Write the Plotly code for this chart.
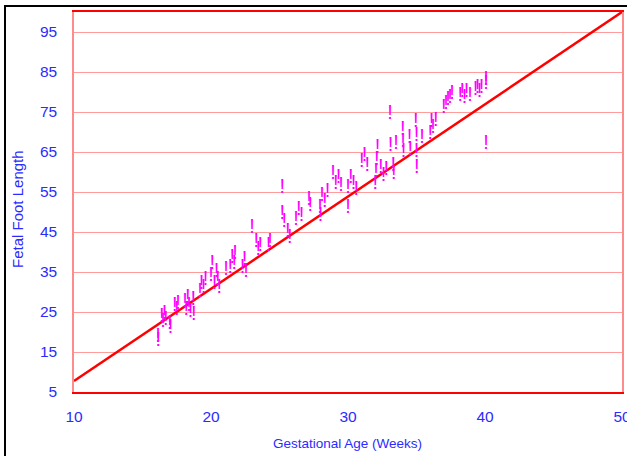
import plotly.graph_objects as go

# Gestational age (weeks) and fetal foot length measurements
weeks = [16.13, 16.15, 16.4, 16.5, 16.6, 16.7, 17.0, 17.05, 17.35, 17.5, 17.6,
         18.1, 18.2, 18.3, 18.4, 18.5, 18.7, 18.75, 19.2, 19.3, 19.45, 19.6,
         20.0, 20.1, 20.25, 20.4, 20.5, 20.6, 21.1, 21.4, 21.55, 21.7, 21.75,
         22.3, 22.45, 22.55, 23.0, 23.3, 23.45, 23.6, 24.2, 24.3,
         25.2, 25.2, 25.35, 25.6, 25.75, 26.2, 26.4, 26.6, 27.15, 27.25,
         27.95, 28.0, 28.1, 28.3, 28.5, 28.9, 29.1, 29.3, 29.5,
         30.0, 30.0, 30.2, 30.4, 30.6, 31.0, 31.2, 31.4,
         32.0, 32.05, 32.1, 32.15, 32.4, 32.6, 32.8, 33.07, 33.1, 33.3, 33.35, 33.5,
         34.0, 34.02, 34.05, 34.5, 34.55, 34.95, 35.0, 35.0, 35.02, 35.4,
         36.0, 36.1, 36.2, 36.4, 37.0, 37.15, 37.3, 37.45, 37.6,
         38.2, 38.35, 38.5, 38.65, 38.9, 39.3, 39.45, 39.6, 39.75,
         40.07, 40.07, 40.07]
foot_length = [18.8, 17.8, 23.8, 22.6, 24.5, 23.0, 22.0, 21.0, 26.5, 25.5, 27.0,
               27.5, 25.5, 28.5, 26.5, 25.0, 28.0, 24.2, 30.0, 32.0, 31.0, 33.0,
               34.0, 37.0, 32.0, 35.0, 33.0, 31.0, 35.5, 36.0, 38.5, 37.0, 39.5,
               36.0, 38.0, 35.0, 46.0, 42.5, 40.5, 41.5, 41.5, 42.5,
               56.0, 49.5, 47.5, 45.0, 43.5, 48.0, 50.5, 49.0, 53.0, 51.5,
               51.0, 49.0, 54.0, 52.5, 55.0, 59.5, 57.0, 58.5, 56.5,
               56.0, 51.0, 58.5, 57.0, 55.5, 62.5, 64.0, 61.5,
               57.0, 60.0, 63.0, 66.0, 61.0, 59.0, 60.5, 74.5, 66.5, 61.5, 59.5, 67.0,
               70.5, 67.5, 65.0, 68.5, 65.5, 72.5, 69.0, 65.0, 61.0, 68.5,
               69.5, 72.5, 71.0, 72.8, 76.0, 77.0, 78.0, 78.5, 79.5,
               79.0, 80.0, 78.5, 80.0, 79.0, 80.5, 81.0, 80.0, 81.0,
               83.0, 82.0, 67.0]

# Reference line
line_x = [10, 50]
line_y = [7.75, 100]

x_ticks = [10, 20, 30, 40, 50]
y_ticks = [5, 15, 25, 35, 45, 55, 65, 75, 85, 95]

BLUE = "#2b2bff"
FONT = "Liberation Sans, Arial, sans-serif"

fig = go.Figure()
fig.add_trace(go.Scatter(
    x=line_x, y=line_y, mode="lines",
    line=dict(color="#ff0000", width=2.5), hoverinfo="skip", showlegend=False))
fig.add_trace(go.Scatter(
    x=weeks, y=foot_length, mode="text", text=["!"] * len(weeks),
    textposition="middle center",
    textfont=dict(color="#ff00ff", size=20, family=FONT),
    showlegend=False))

fig.update_layout(
    width=627, height=456,
    margin=dict(l=74, r=5, t=12, b=64, autoexpand=False),
    paper_bgcolor="white", plot_bgcolor="white",
    font=dict(family=FONT, color=BLUE),
    xaxis=dict(range=[10, 50], tickvals=x_ticks, showgrid=False, zeroline=False,
               showline=True, linecolor="#ff0000", linewidth=2, mirror=True,
               ticks="", ticklabelstandoff=9, ticklabeloverflow="allow",
               automargin=False,
               tickfont=dict(size=15.5, color=BLUE, family=FONT)),
    yaxis=dict(range=[5, 100], tickvals=y_ticks, showgrid=True,
               gridcolor="#ff9d9d", gridwidth=1.2, zeroline=False,
               showline=True, linecolor="#ff8c8c", linewidth=1.5, mirror=True,
               ticks="", ticklabelstandoff=12, automargin=False,
               tickfont=dict(size=15.5, color=BLUE, family=FONT)),
    shapes=[dict(type="rect", xref="paper", yref="paper",
                 x0=(5 - 74) / 548, x1=1.05, y0=-0.2, y1=(392 - 6) / 380,
                 line=dict(color="black", width=2), fillcolor="rgba(0,0,0,0)",
                 layer="below")],
    annotations=[
        dict(text="Gestational Age (Weeks)", xref="paper", yref="paper",
             x=(347 - 74) / 548, y=(392 - 443) / 380, showarrow=False,
             xanchor="center", yanchor="middle",
             font=dict(size=13.5, color=BLUE, family=FONT)),
        dict(text="Fetal Foot Length", xref="paper", yref="paper",
             x=(18 - 74) / 548, y=(392 - 209) / 380, showarrow=False,
             textangle=-90, xanchor="center", yanchor="middle",
             font=dict(size=15, color=BLUE, family=FONT)),
    ],
)

fig.write_html(
    "out.html",
    config={"displayModeBar": False},
    post_script="document.body.style.margin='0';document.body.style.overflow='hidden';",
)
